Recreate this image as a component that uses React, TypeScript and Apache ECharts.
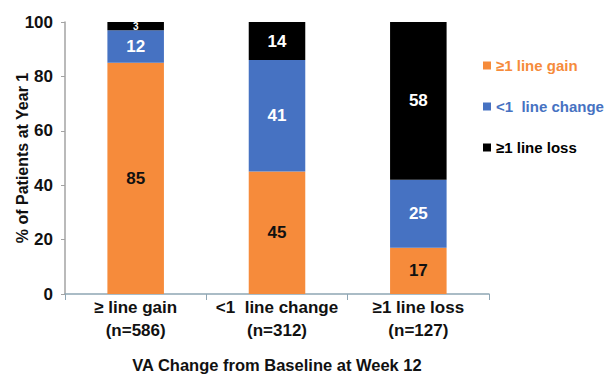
import React, { useEffect, useRef } from "react";
import * as echarts from "echarts";

const categories = ["≥ line gain\n(n=586)", "<1  line change\n(n=312)", "≥1 line loss\n(n=127)"];
const gainValues = [85, 45, 17];
const changeValues = [12, 41, 25];
const lossValues = [3, 14, 58];
const seriesNames = ["≥1 line gain", "<1  line change", "≥1 line loss"];
const yTicks = [0, 20, 40, 60, 80, 100];

const ORANGE = "#F68B3B";
const BLUE = "#4672C2";
const BLACK = "#000000";
const FONT = "'Liberation Sans', Arial, sans-serif";

export default function App() {
  const ref = useRef<HTMLDivElement>(null);
  useEffect(() => {
    if (!ref.current) return;
    const chart = echarts.init(ref.current, undefined, { renderer: "svg" });
    const label = (color: string, size = 17) => ({
      show: true,
      position: "inside",
      color,
      fontFamily: FONT,
      fontWeight: "bold",
      fontSize: size,
    });
    chart.setOption({
      animation: false,
      backgroundColor: "#ffffff",
      grid: {
        left: 65,
        right: 125,
        top: 22,
        bottom: 92,
        containLabel: false,
        outerBoundsMode: "none",
      },
      legend: {
        orient: "vertical",
        left: 478,
        top: 53,
        itemGap: 26,
        itemWidth: 8,
        itemHeight: 8,
        icon: "rect",
        textStyle: { fontFamily: FONT, fontWeight: "bold", fontSize: 15 },
        data: [
          { name: seriesNames[0], textStyle: { color: ORANGE } },
          { name: seriesNames[1], textStyle: { color: BLUE } },
          { name: seriesNames[2], textStyle: { color: BLACK } },
        ],
      },
      xAxis: {
        type: "category",
        data: categories,
        axisLine: { show: true, lineStyle: { color: "#8FA6B4", width: 1.5 } },
        axisTick: { show: true, length: 6, lineStyle: { color: "#8FA6B4" } },
        axisLabel: {
          interval: 0,
          color: "#111111",
          fontFamily: FONT,
          fontWeight: "bold",
          fontSize: 17,
          lineHeight: 23,
          margin: 2,
        },
        name: "VA Change from Baseline at Week 12",
        nameLocation: "middle",
        nameGap: 62,
        nameMoveOverlap: false,
        nameTextStyle: { color: "#111111", fontFamily: FONT, fontWeight: "bold", fontSize: 16.5 },
      },
      yAxis: {
        type: "value",
        min: yTicks[0],
        max: yTicks[yTicks.length - 1],
        interval: 20,
        splitLine: { show: false },
        axisLine: { show: true, lineStyle: { color: "#A3A3A3", width: 1.5 } },
        axisTick: { show: true, length: 4, lineStyle: { color: "#A3A3A3" } },
        axisLabel: {
          color: "#111111",
          fontFamily: FONT,
          fontWeight: "bold",
          fontSize: 17,
          margin: 12,
        },
        name: "% of Patients at Year 1",
        nameLocation: "middle",
        nameRotate: 90,
        nameGap: 35,
        nameMoveOverlap: false,
        nameTextStyle: { color: "#111111", fontFamily: FONT, fontWeight: "bold", fontSize: 16 },
      },
      series: [
        {
          name: seriesNames[0],
          type: "bar",
          stack: "total",
          barWidth: "40%",
          itemStyle: { color: ORANGE },
          label: label("#111111"),
          data: gainValues,
        },
        {
          name: seriesNames[1],
          type: "bar",
          stack: "total",
          itemStyle: { color: BLUE },
          label: label("#ffffff"),
          data: changeValues,
        },
        {
          name: seriesNames[2],
          type: "bar",
          stack: "total",
          itemStyle: { color: BLACK },
          label: label("#ffffff"),
          data: lossValues.map((v, i) =>
            i === 0 ? { value: v, label: { fontSize: 10 } } : v
          ),
        },
      ],
    });
    return () => chart.dispose();
  }, []);
  return (
    <div
      ref={ref}
      style={{ position: "fixed", left: 0, top: 0, width: 614, height: 386 }}
    />
  );
}
